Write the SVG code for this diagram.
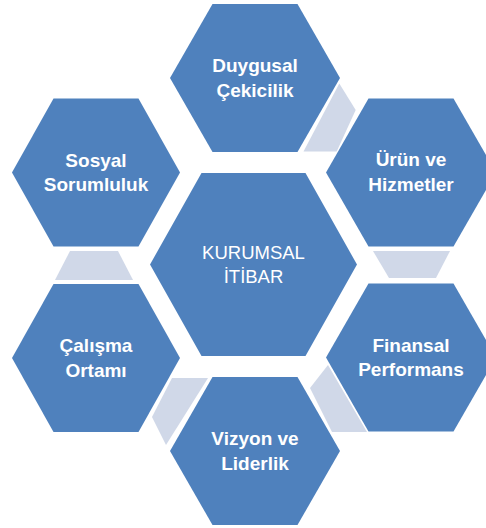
<svg xmlns="http://www.w3.org/2000/svg" width="486" height="528" viewBox="0 0 486 528">
<style>
.hex{fill:#4F81BD}
.con{fill:#D0D8E8}
.t{font-family:"Liberation Sans",Arial,sans-serif;font-size:19px;font-weight:bold;fill:#FFFFFF;text-anchor:middle}
.tc{font-family:"Liberation Sans",Arial,sans-serif;font-size:18.5px;fill:#FFFFFF;text-anchor:middle}
</style>
<rect width="486" height="528" fill="#FFFFFF"/>
<g id="connectors">
<polygon class="con" points="339.3,83.5 355.7,110 336.7,151.5 303.5,151.5"/>
<polygon class="con" points="373,251 450,251 436,278 389,278"/>
<polygon class="con" points="70,251 118,251 133,280 55,280"/>
<polygon class="con" points="172,378 208,378 166,445 152,417"/>
<polygon class="con" points="328,365 310,388 332,432 367,432"/>
</g>
<g id="node-center">
<polygon class="hex" points="150,264.5 201.5,173 305.5,173 357,264.5 305.5,356 201.5,356"/>
<text class="tc" x="253.5" y="259">KURUMSAL</text>
<text class="tc" x="253.5" y="283">İTİBAR</text>
</g>
<g id="node-duygusal">
<polygon class="hex" points="170,78 212.5,4 297.5,4 340,78 297.5,152 212.5,152"/>
<text class="t" x="255" y="72">Duygusal</text>
<text class="t" x="255" y="96.5">Çekicilik</text>
</g>
<g id="node-urun">
<polygon class="hex" points="326,172.5 368.5,98.5 453.5,98.5 496,172.5 453.5,246.5 368.5,246.5"/>
<text class="t" x="411" y="166">Ürün ve</text>
<text class="t" x="411" y="190.5">Hizmetler</text>
</g>
<g id="node-finansal">
<polygon class="hex" points="326,357.5 368.5,283.5 453.5,283.5 496,357.5 453.5,431.5 368.5,431.5"/>
<text class="t" x="411" y="351.5">Finansal</text>
<text class="t" x="411" y="376">Performans</text>
</g>
<g id="node-vizyon">
<polygon class="hex" points="170,451 212.5,377 297.5,377 340,451 297.5,525 212.5,525"/>
<text class="t" x="255" y="445">Vizyon ve</text>
<text class="t" x="255" y="469.5">Liderlik</text>
</g>
<g id="node-calisma">
<polygon class="hex" points="12,358 53.5,284 138.5,284 180,358 138.5,432 53.5,432"/>
<text class="t" x="96" y="352">Çalışma</text>
<text class="t" x="96" y="376.5">Ortamı</text>
</g>
<g id="node-sosyal">
<polygon class="hex" points="12,172.5 53.5,98.5 138.5,98.5 180,172.5 138.5,246.5 53.5,246.5"/>
<text class="t" x="96" y="166.5">Sosyal</text>
<text class="t" x="96" y="191">Sorumluluk</text>
</g>
</svg>
